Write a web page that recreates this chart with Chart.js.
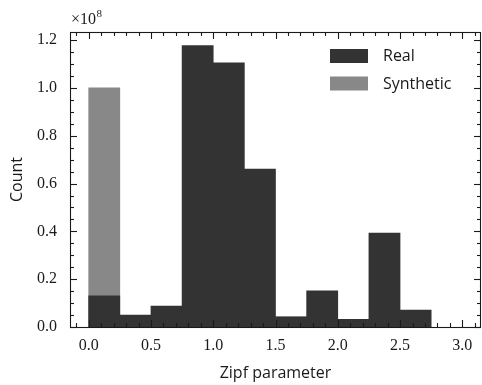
<!DOCTYPE html>
<html><head><meta charset="utf-8">
<script src="https://cdn.jsdelivr.net/npm/chart.js@4/dist/chart.umd.min.js"></script>
<style>html,body{margin:0;padding:0;background:#fff;}#wrap{width:482px;height:385px;}</style>
</head><body><div id="wrap"><canvas id="c" width="482" height="385"></canvas></div>
<script>
// Histogram bin edges (Zipf parameter)
const binEdges = [0, 0.25, 0.5, 0.75, 1.0, 1.25, 1.5, 1.75, 2.0, 2.25, 2.5, 2.75];
// Counts in units of 1e8
const realCounts = [0.13, 0.05, 0.088, 1.177, 1.105, 0.661, 0.043, 0.151, 0.032, 0.393, 0.071];
const syntheticEdges = [0, 0.25];
const syntheticCounts = [1.0];
const xTicks = [0, 0.5, 1.0, 1.5, 2.0, 2.5, 3.0];
const yTicks = [0, 0.2, 0.4, 0.6, 0.8, 1.0, 1.2];
const seriesLabels = ['Real', 'Synthetic'];

function toBars(edges, counts) {
  return counts.map((v, i) => ({ x: (edges[i] + edges[i + 1]) / 2, y: v }));
}

const SERIF = "'Liberation Serif', 'DejaVu Serif', serif";
const SANS = "'Open Sans', Lato, sans-serif";

const framePlugin = {
  id: 'frame',
  afterDatasetsDraw(chart) {
    const { ctx, chartArea: { left, right, top, bottom }, scales: { x, y } } = chart;
    ctx.save();
    ctx.strokeStyle = '#1a1a1a';
    ctx.lineWidth = 1.1;
    const MAJ = 7, MIN = 4;
    const seg = (x1, y1, x2, y2) => { ctx.beginPath(); ctx.moveTo(x1, y1); ctx.lineTo(x2, y2); ctx.stroke(); };
    const xt = (v, len) => { const p = Math.round(x.getPixelForValue(v)) + 0.5; if (p < left || p > right) return; seg(p, bottom, p, bottom - len); seg(p, top, p, top + len); };
    const yt = (v, len) => { const p = Math.round(y.getPixelForValue(v)) + 0.5; if (p < top - 0.5 || p > bottom + 0.5) return; seg(left, p, left + len, p); seg(right, p, right - len, p); };
    for (let k = -2; k <= 32; k++) { const v = k / 10; if (k % 5 !== 0 && v >= x.min && v <= x.max) xt(v, MIN); }
    x.ticks.forEach(t => xt(t.value, MAJ));
    for (let k = 0; k <= 30; k++) { const v = k / 20; if (k % 4 !== 0 && v >= y.min && v <= y.max) yt(v, MIN); }
    y.ticks.forEach(t => yt(t.value, MAJ));
    ctx.strokeRect(Math.round(left) + 0.5, Math.round(top) + 0.5, Math.round(right - left) - 1, Math.round(bottom - top));

    // offset text
    ctx.fillStyle = '#1a1a1a';
    ctx.textBaseline = 'alphabetic';
    ctx.textAlign = 'left';
    ctx.font = '16px ' + SERIF;
    ctx.fillText('\u00d710', left + 1, 24);
    const w = ctx.measureText('\u00d710').width;
    ctx.font = '11px ' + SERIF;
    ctx.fillText('8', left + 1 + w + 0.5, 17);

    // legend
    const ds = chart.data.datasets;
    ctx.font = '16px ' + SANS;
    ctx.textBaseline = 'middle';
    ds.forEach((d, i) => {
      const yy = 49 + i * 27.5;
      ctx.fillStyle = d.backgroundColor;
      ctx.fillRect(330, yy, 38, 14);
      ctx.fillStyle = '#1a1a1a';
      ctx.fillText(d.label, 383, yy + 7.5);
    });
    ctx.restore();
  }
};

new Chart(document.getElementById('c'), {
  type: 'bar',
  data: {
    datasets: [
      { label: seriesLabels[0], data: toBars(binEdges, realCounts), backgroundColor: '#333333',
        barPercentage: 1, categoryPercentage: 1, borderWidth: 0, grouped: false },
      { label: seriesLabels[1], data: toBars(syntheticEdges, syntheticCounts), backgroundColor: '#888888',
        barPercentage: 1, categoryPercentage: 1, borderWidth: 0, grouped: false }
    ]
  },
  options: {
    responsive: false,
    animation: false,
    devicePixelRatio: 1,
    layout: { padding: { top: 32, right: 1, left: 0, bottom: 0 } },
    plugins: { legend: { display: false }, tooltip: { enabled: false } },
    scales: {
      x: {
        type: 'linear', min: -0.15, max: 3.15, offset: false,
        afterBuildTicks: s => { s.ticks = xTicks.map(v => ({ value: v })); },
        afterFit: s => { s.height = 58; },
        grid: { display: false, drawTicks: false },
        border: { display: false },
        ticks: { padding: 9, color: '#1a1a1a', font: { family: SERIF, size: 16 }, maxRotation: 0, autoSkip: false,
          callback: v => Number(v).toFixed(1) },
        title: { display: true, text: 'Zipf parameter', color: '#1a1a1a', font: { family: SANS, size: 16 }, padding: { top: 0, bottom: 2 } }
      },
      y: {
        type: 'linear', min: 0, max: 1.234,
        afterBuildTicks: s => { s.ticks = yTicks.map(v => ({ value: v })); },
        afterFit: s => { s.width = 70; },
        grid: { display: false, drawTicks: false },
        border: { display: false },
        ticks: { padding: 13, color: '#1a1a1a', font: { family: SERIF, size: 16 }, autoSkip: false,
          callback: v => Number(v).toFixed(1) },
        title: { display: true, text: 'Count', color: '#1a1a1a', font: { family: SANS, size: 16 }, padding: { top: 8, bottom: 0 } }
      }
    }
  },
  plugins: [framePlugin]
});
</script></body></html>
